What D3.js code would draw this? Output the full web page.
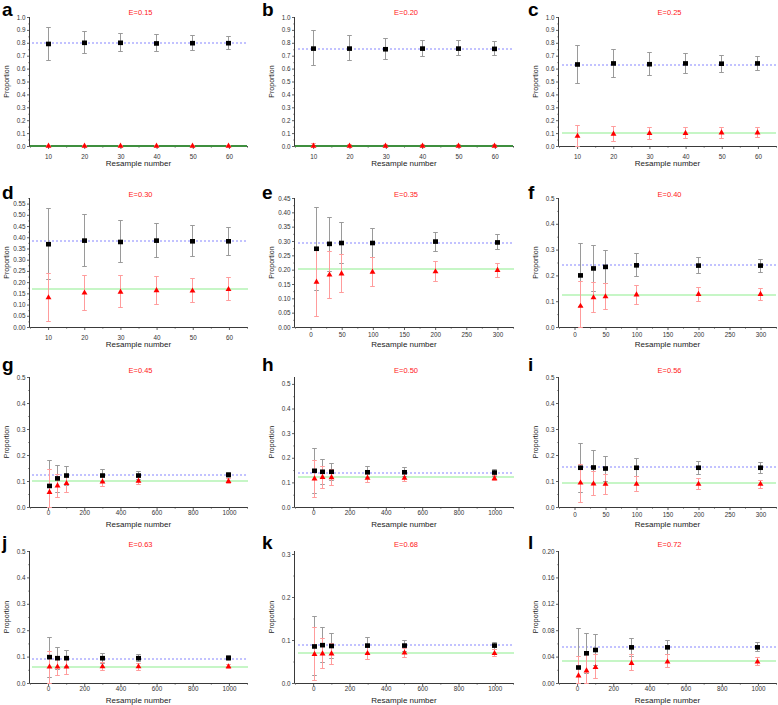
<!DOCTYPE html>
<html><head><meta charset="utf-8">
<script src="https://cdn.jsdelivr.net/npm/d3@7"></script>
<style>
body{margin:0;background:#fff;}
svg{display:block;font-family:Arial,"Liberation Sans",sans-serif;}
</style>
</head><body>
<svg id="chart" width="778" height="705"></svg>
<script>
// ---------- DATA ----------
const panelLabels = ["a","b","c","d","e","f","g","h","i","j","k","l"];
const eValues = ["E=0.15","E=0.20","E=0.25","E=0.30","E=0.35","E=0.40","E=0.45","E=0.50","E=0.56","E=0.63","E=0.68","E=0.72"];

const xSmall = [10,20,30,40,50,60];
const xMid = [10,30,50,100,200,300];
const xLarge = [10,50,100,300,500,1000];
const xValues = [xSmall,xSmall,xSmall,xSmall,xMid,xMid,xLarge,xLarge,xMid,xLarge,xLarge,xLarge];

const xTickSmall = ["10","20","30","40","50","60"];
const xTickMid = ["0","50","100","150","200","250","300"];
const xTickLarge = ["0","200","400","600","800","1000"];
const xTickLabels = [xTickSmall,xTickSmall,xTickSmall,xTickSmall,xTickMid,xTickMid,xTickLarge,xTickLarge,xTickMid,xTickLarge,xTickLarge,xTickLarge];
const xDomains = [[5,65],[5,65],[5,65],[5,65],[-25,325],[-25,325],[-100,1100],[-100,1100],[-25,325],[-100,1100],[-100,1100],[-100,1100]];

const yTickUnit = ["0.0","0.1","0.2","0.3","0.4","0.5","0.6","0.7","0.8","0.9","1.0"];
const yTickD = ["0.00","0.05","0.10","0.15","0.20","0.25","0.30","0.35","0.40","0.45","0.50","0.55"];
const yTickE = ["0.00","0.05","0.10","0.15","0.20","0.25","0.30","0.35","0.40","0.45"];
const yTickHalf = ["0.0","0.1","0.2","0.3","0.4","0.5"];
const yTickK = ["0.0","0.1","0.2","0.3"];
const yTickL = ["0.00","0.04","0.08","0.12","0.16","0.20"];
const yTickLabels = [yTickUnit,yTickUnit,yTickUnit,yTickD,yTickE,yTickHalf,yTickHalf,yTickHalf,yTickHalf,yTickHalf,yTickK,yTickL];
const yMax = [1.0,1.0,1.0,0.575,0.45,0.5,0.5,0.528,0.5,0.5,0.307,0.2];

const blackMean = [
  [0.791,0.800,0.800,0.795,0.797,0.797],
  [0.755,0.755,0.750,0.755,0.755,0.753],
  [0.632,0.640,0.634,0.640,0.638,0.640],
  [0.369,0.385,0.379,0.385,0.382,0.382],
  [0.273,0.290,0.293,0.293,0.298,0.295],
  [0.200,0.227,0.233,0.239,0.238,0.238],
  [0.081,0.110,0.121,0.121,0.121,0.124],
  [0.147,0.143,0.143,0.141,0.141,0.140],
  [0.151,0.152,0.148,0.151,0.151,0.151],
  [0.098,0.094,0.094,0.094,0.094,0.095],
  [0.085,0.088,0.086,0.087,0.087,0.087],
  [0.0235,0.045,0.050,0.054,0.054,0.054]
];
const blackLow = [
  [0.665,0.714,0.730,0.733,0.742,0.748],
  [0.621,0.660,0.667,0.693,0.698,0.700],
  [0.483,0.528,0.549,0.562,0.572,0.582],
  [0.210,0.268,0.287,0.308,0.313,0.320],
  [0.128,0.195,0.223,0.243,0.264,0.270],
  [0.078,0.138,0.168,0.194,0.207,0.213],
  [0.000,0.057,0.083,0.099,0.105,0.114],
  [0.054,0.092,0.109,0.118,0.122,0.125],
  [0.057,0.090,0.100,0.116,0.126,0.129],
  [0.022,0.053,0.063,0.075,0.081,0.085],
  [0.017,0.048,0.058,0.069,0.074,0.079],
  [0.000,0.0141,0.0267,0.040,0.0438,0.0479]
];
const blackHigh = [
  [0.918,0.887,0.872,0.862,0.855,0.847],
  [0.893,0.853,0.832,0.820,0.814,0.807],
  [0.778,0.748,0.722,0.716,0.703,0.697],
  [0.528,0.501,0.473,0.462,0.451,0.445],
  [0.416,0.383,0.364,0.345,0.331,0.321],
  [0.323,0.317,0.296,0.283,0.269,0.262],
  [0.177,0.159,0.156,0.143,0.137,0.133],
  [0.236,0.193,0.177,0.163,0.159,0.154],
  [0.244,0.216,0.196,0.186,0.174,0.173],
  [0.174,0.136,0.124,0.110,0.107,0.104],
  [0.154,0.128,0.114,0.105,0.100,0.095],
  [0.083,0.0756,0.073,0.067,0.0645,0.061]
];
const redMean = [
  [0,0,0,0,0,0],
  [0,0,0,0,0,0],
  [0.077,0.093,0.098,0.099,0.103,0.103],
  [0.131,0.152,0.156,0.163,0.161,0.168],
  [0.157,0.182,0.186,0.192,0.193,0.198],
  [0.081,0.114,0.118,0.125,0.127,0.127],
  [0.057,0.082,0.091,0.097,0.100,0.099],
  [0.115,0.121,0.120,0.118,0.118,0.116],
  [0.093,0.089,0.088,0.088,0.088,0.088],
  [0.061,0.061,0.061,0.062,0.062,0.062],
  [0.067,0.068,0.068,0.069,0.070,0.069],
  [0.011,0.0186,0.0237,0.030,0.032,0.032]
];
const redLow = [
  [0,0,0,0,0,0],
  [0,0,0,0,0,0],
  [0.000,0.034,0.052,0.057,0.060,0.064],
  [0.025,0.074,0.085,0.100,0.107,0.119],
  [0.037,0.099,0.120,0.142,0.157,0.172],
  [0.000,0.056,0.066,0.088,0.100,0.103],
  [0.000,0.038,0.056,0.077,0.085,0.089],
  [0.038,0.077,0.086,0.099,0.105,0.106],
  [0.019,0.043,0.048,0.058,0.067,0.072],
  [0.000,0.028,0.034,0.047,0.049,0.055],
  [0.005,0.033,0.044,0.054,0.059,0.061],
  [0.000,0.000,0.0066,0.0186,0.0237,0.026]
];
const redHigh = [
  [0.003,0.003,0.003,0.003,0.003,0.003],
  [0.020,0.012,0.010,0.010,0.010,0.008],
  [0.162,0.155,0.147,0.144,0.144,0.142],
  [0.238,0.230,0.228,0.226,0.216,0.220],
  [0.276,0.264,0.252,0.242,0.227,0.223],
  [0.177,0.172,0.168,0.161,0.152,0.149],
  [0.143,0.124,0.124,0.117,0.115,0.108],
  [0.190,0.166,0.154,0.139,0.136,0.129],
  [0.165,0.135,0.125,0.119,0.108,0.103],
  [0.119,0.091,0.088,0.079,0.075,0.071],
  [0.129,0.103,0.092,0.084,0.081,0.077],
  [0.040,0.043,0.043,0.043,0.043,0.0388]
];
const blueRef = [0.798,0.748,0.634,0.385,0.294,0.238,0.124,0.140,0.151,0.094,0.087,0.054];
const greenRef = [0.0,0.0,0.100,0.167,0.200,0.127,0.098,0.121,0.090,0.060,0.069,0.033];

// ---------- LAYOUT ----------
const cols = [{x0:30,x1:247,lx:2},{x0:295,x1:513,lx:262},{x0:559,x1:776,lx:528}];
const rows = [{y0:17,y1:146,ly:16,ty:15},{y0:198,y1:327,ly:199,ty:197},{y0:377,y1:507,ly:371,ty:373},{y0:551,y1:683,ly:549,ty:547}];
const xLabelOffset = [10.5,10.5,10.5,10.5,8,8,6,6,8,6,6,6];

const svg = d3.select("#chart");
const axisColor = "#3a3a3a";
const crisp = v => Math.round(v - 0.5) + 0.5;
const even = v => 2 * Math.round(v / 2);          // aligned to 2px blocks

panelLabels.forEach((lab, i) => {
  const c = cols[i % 3], r = rows[Math.floor(i / 3)];
  const x = d3.scaleLinear().domain(xDomains[i]).range([c.x0, c.x1]);
  const y = d3.scaleLinear().domain([0, yMax[i]]).range([r.y1, r.y0]);
  const g = svg.append("g");

  const yt = yTickLabels[i].map(Number);
  const ystep = yt[1] - yt[0];
  const yMinor = yt.map(v => v + ystep / 2).filter(v => v <= yMax[i] + 1e-9);
  const xt = xTickLabels[i].map(Number);
  const xstep = xt[1] - xt[0];
  const xMinor = [xt[0] - xstep / 2].concat(xt.map(v => v + xstep / 2)).filter(v => v >= xDomains[i][0] && v <= xDomains[i][1]);

  // reference lines (behind), 2px tall aligned to even rows
  const lx0 = even(c.x0 + 2), lx1 = even(c.x1);
  if (greenRef[i] > 0) {
    const gy = even(y(greenRef[i]) - 1) + 1;
    g.append("line").attr("x1", lx0).attr("x2", lx1)
      .attr("y1", gy).attr("y2", gy)
      .attr("stroke", "#c6f6c6").attr("stroke-width", 2);
  }
  const by = even(y(blueRef[i]) - 1) + 1;
  g.append("line").attr("x1", lx0).attr("x2", lx1)
    .attr("y1", by).attr("y2", by)
    .attr("stroke", "#c2c2ff").attr("stroke-width", 2).attr("stroke-dasharray", "2,2");

  const yAxis = g.append("g").attr("transform", `translate(${c.x0},0)`)
    .call(d3.axisLeft(y).tickValues(yt).tickFormat((d, k) => yTickLabels[i][k]).tickSize(3).tickPadding(1.5));
  g.append("g").attr("transform", `translate(${c.x0},0)`)
    .call(d3.axisLeft(y).tickValues(yMinor).tickFormat("").tickSize(1.6).tickSizeOuter(0))
    .select(".domain").remove();
  g.append("g").attr("transform", `translate(0,${r.y1})`)
    .call(d3.axisBottom(x).tickValues(xt).tickFormat((d, k) => xTickLabels[i][k]).tickSize(3).tickSizeOuter(0).tickPadding(xLabelOffset[i] - 5));
  g.append("g").attr("transform", `translate(0,${r.y1})`)
    .call(d3.axisBottom(x).tickValues(xMinor).tickFormat("").tickSize(1.6).tickSizeOuter(0))
    .select(".domain").remove();
  yAxis.select(".domain").attr("d", `M-0.5,${r.y0}V${r.y1}`);
  g.selectAll(".domain").attr("stroke", axisColor).attr("stroke-width", 1);
  g.selectAll(".tick line").attr("stroke", axisColor).attr("stroke-width", 0.8);
  g.selectAll(".tick text").attr("fill", "#333").attr("font-size", "6.3px").attr("font-family", "Arial,'Liberation Sans',sans-serif");
  if (greenRef[i] === 0) {
    g.append("line").attr("x1", c.x0).attr("x2", c.x1).attr("y1", r.y1).attr("y2", r.y1)
      .attr("stroke", "#3f8f3f").attr("stroke-width", 2);
  }

  const cap = 2.3;
  function errorBars(lows, highs, color) {
    const eb = g.append("g").attr("stroke", color).attr("stroke-width", 1);
    xValues[i].forEach((xv, k) => {
      const px = crisp(x(xv));
      eb.append("line").attr("x1", px).attr("x2", px).attr("y1", y(lows[k])).attr("y2", y(highs[k]));
      eb.append("line").attr("x1", px - cap).attr("x2", px + cap).attr("y1", crisp(y(lows[k]))).attr("y2", crisp(y(lows[k])));
      eb.append("line").attr("x1", px - cap).attr("x2", px + cap).attr("y1", crisp(y(highs[k]))).attr("y2", crisp(y(highs[k])));
    });
  }
  errorBars(blackLow[i], blackHigh[i], "#9a9a9a");
  errorBars(redLow[i], redHigh[i], "#ff9c9c");

  // markers
  g.append("g").selectAll("rect").data(xValues[i]).join("rect")
    .attr("x", (d) => crisp(x(d)) - 2.5).attr("y", (d, k) => y(blackMean[i][k]) - 2.3)
    .attr("width", 5).attr("height", 4.6).attr("fill", "#000");
  const tri = d3.symbol().type(d3.symbolTriangle).size(15);
  g.append("g").selectAll("path").data(xValues[i]).join("path")
    .attr("d", tri)
    .attr("transform", (d, k) => `translate(${crisp(x(d))},${y(redMean[i][k])})`)
    .attr("fill", "#ff0000");

  // titles
  g.append("text").attr("x", (c.x0 + c.x1) / 2 + 2).attr("y", r.ty)
    .attr("text-anchor", "middle").attr("fill", "#ff2020").attr("font-size", "7.5px").text(eValues[i]);
  g.append("text").attr("x", (c.x0 + c.x1) / 2).attr("y", r.y1 + 20)
    .attr("text-anchor", "middle").attr("fill", "#222").attr("font-size", "8px").text("Resample number");
  g.append("text").attr("transform", `translate(${c.x0 - 21},${(r.y0 + r.y1) / 2}) rotate(-90)`)
    .attr("text-anchor", "middle").attr("fill", "#222").attr("font-size", "7px").text("Proportion");
  g.append("text").attr("x", c.lx).attr("y", r.ly)
    .attr("font-weight", "bold").attr("font-size", "19px").attr("fill", "#000").text(lab);
});
</script>
</body></html>
